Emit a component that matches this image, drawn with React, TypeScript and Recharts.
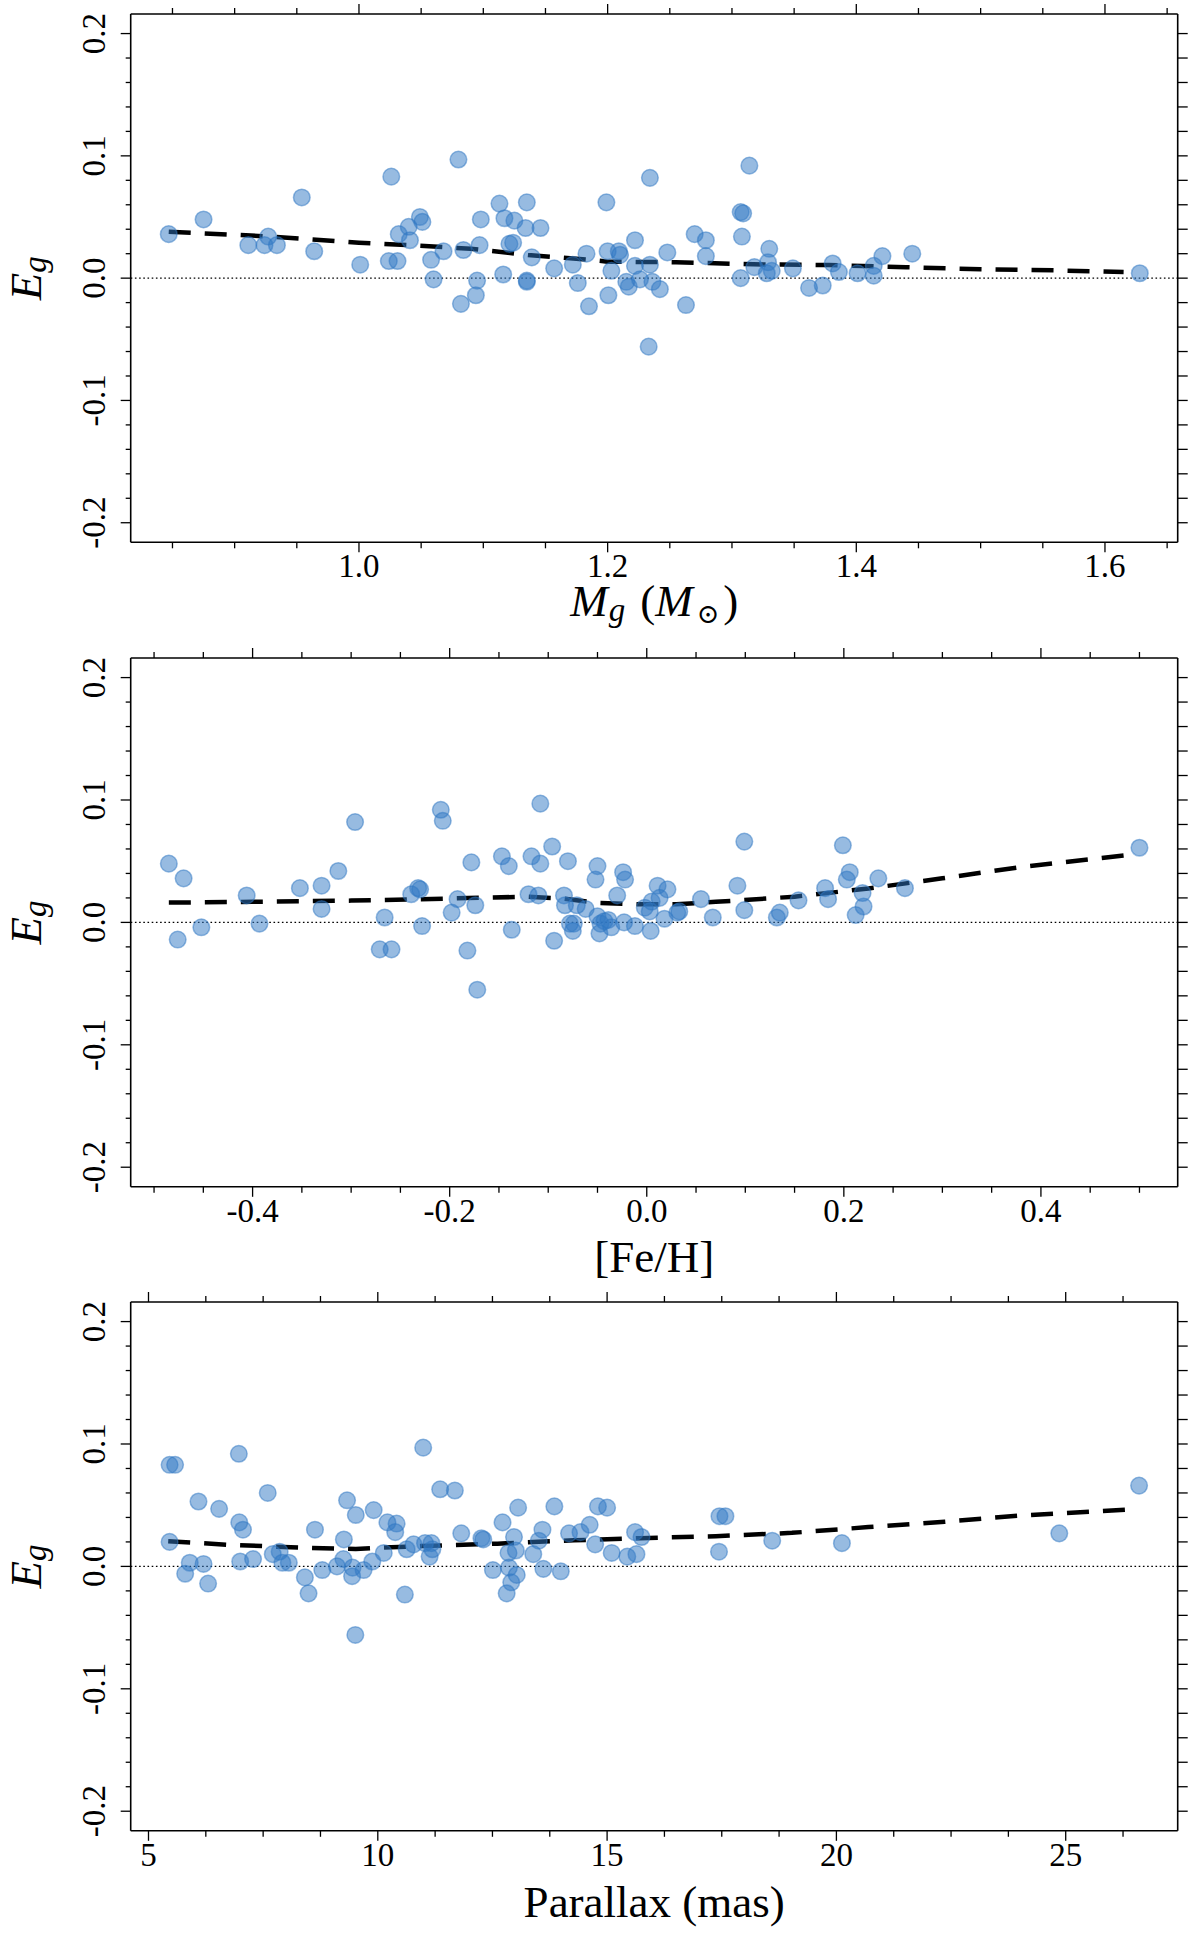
import React from 'react';
import { ComposedChart, Scatter, Line, XAxis, YAxis, ReferenceLine } from 'recharts';

const FONT = '"Liberation Serif", "Times New Roman", serif';

// ---------- Panel 1: mass ----------
const massX = [0.847, 0.875, 0.911, 0.924, 0.927, 0.934, 0.954, 0.964, 1.001, 1.026, 1.024, 1.031, 1.032, 1.040, 1.041, 1.049, 1.051, 1.058, 1.060, 1.068, 1.080, 1.082, 1.084, 1.094, 1.095, 1.097, 1.098, 1.113, 1.117, 1.116, 1.121, 1.124, 1.125, 1.134, 1.135, 1.135, 1.135, 1.139, 1.146, 1.157, 1.172, 1.176, 1.183, 1.185, 1.199, 1.2006, 1.200, 1.203, 1.209, 1.210, 1.215, 1.217, 1.222, 1.222, 1.226, 1.234, 1.234, 1.236, 1.233, 1.242, 1.248, 1.263, 1.270, 1.279, 1.279, 1.307, 1.309, 1.308, 1.307, 1.314, 1.318, 1.330, 1.329, 1.328, 1.332, 1.349, 1.362, 1.373, 1.381, 1.386, 1.401, 1.414, 1.414, 1.421, 1.445, 1.628];
const massE = [0.036, 0.048, 0.027, 0.027, 0.034, 0.027, 0.066, 0.022, 0.011, 0.083, 0.014, 0.014, 0.036, 0.042, 0.031, 0.050, 0.046, 0.015, -0.001, 0.022, 0.097, -0.021, 0.023, -0.014, -0.002, 0.027, 0.048, 0.061, 0.049, 0.003, 0.028, 0.029, 0.047, 0.041, 0.062, -0.002, -0.003, 0.017, 0.041, 0.008, 0.011, -0.004, 0.020, -0.023, 0.062, -0.014, 0.022, 0.006, 0.022, 0.019, -0.003, -0.007, 0.031, 0.010, -0.001, 0.082, 0.011, -0.003, -0.056, -0.009, 0.021, -0.022, 0.036, 0.031, 0.018, 0.054, 0.053, 0.034, 0.000, 0.092, 0.009, 0.024, 0.013, 0.004, 0.006, 0.008, -0.008, -0.006, 0.012, 0.005, 0.004, 0.010, 0.002, 0.018, 0.020, 0.004];
const massFitX = [0.847, 0.93, 1.0, 1.04, 1.09, 1.136, 1.185, 1.2, 1.255, 1.317, 1.378, 1.44, 1.5, 1.563, 1.615];
const massFitE = [0.038, 0.034, 0.029, 0.027, 0.024, 0.019, 0.015, 0.0135, 0.013, 0.0113, 0.0107, 0.009, 0.0073, 0.0063, 0.005];

// ---------- Panel 2: [Fe/H] ----------
const fehX = [-0.485, -0.470, -0.476, -0.452, -0.406, -0.393, -0.352, -0.330, -0.330, -0.313, -0.296, -0.271, -0.266, -0.259, -0.239, -0.232, -0.230, -0.228, -0.209, -0.207, -0.198, -0.192, -0.182, -0.178, -0.174, -0.172, -0.147, -0.140, -0.137, -0.120, -0.117, -0.110, -0.108, -0.108, -0.096, -0.094, -0.084, -0.083, -0.080, -0.078, -0.074, -0.075, -0.071, -0.062, -0.050, -0.052, -0.050, -0.048, -0.047, -0.043, -0.039, -0.036, -0.030, -0.024, -0.022, -0.023, -0.012, -0.002, 0.003, 0.004, 0.005, 0.011, 0.013, 0.018, 0.021, 0.031, 0.033, 0.055, 0.067, 0.092, 0.099, 0.099, 0.132, 0.135, 0.154, 0.181, 0.184, 0.199, 0.206, 0.203, 0.219, 0.220, 0.212, 0.235, 0.262, 0.500];
const fehE = [0.048, 0.036, -0.014, -0.004, 0.022, -0.001, 0.028, 0.030, 0.011, 0.042, 0.082, -0.022, 0.004, -0.022, 0.023, 0.028, 0.027, -0.003, 0.092, 0.083, 0.008, 0.019, -0.023, 0.049, 0.014, -0.055, 0.054, 0.046, -0.006, 0.023, 0.054, 0.022, 0.097, 0.048, 0.062, -0.015, 0.022, 0.014, 0.050, -0.001, -0.001, -0.007, 0.014, 0.011, 0.046, 0.035, 0.005, -0.009, -0.001, 0.001, 0.002, -0.004, 0.022, 0.041, 0.035, 0.000, -0.003, 0.012, 0.009, -0.007, 0.017, 0.030, 0.020, 0.003, 0.027, 0.008, 0.009, 0.019, 0.004, 0.030, 0.066, 0.010, 0.004, 0.008, 0.018, 0.028, 0.019, 0.063, 0.041, 0.035, 0.024, 0.013, 0.006, 0.036, 0.028, 0.061];
const fehFitX = [-0.485, -0.4, -0.3, -0.2, -0.12, -0.085, -0.05, -0.01, 0.03, 0.07, 0.15, 0.225, 0.30, 0.38, 0.485];
const fehFitE = [0.0162, 0.0168, 0.0178, 0.0195, 0.021, 0.0195, 0.016, 0.0148, 0.0148, 0.0168, 0.021, 0.0277, 0.036, 0.0453, 0.0547];

// ---------- Panel 3: parallax ----------
const plxX = [5.46, 5.58, 5.46, 5.80, 5.90, 6.09, 6.20, 6.30, 6.54, 6.97, 6.98, 7.06, 7.00, 7.28, 7.60, 7.71, 7.86, 7.92, 8.06, 8.41, 8.49, 8.63, 8.79, 9.11, 9.26, 9.25, 9.33, 9.45, 9.44, 9.52, 9.51, 9.69, 9.91, 9.88, 10.13, 10.21, 10.41, 10.38, 10.59, 10.63, 10.78, 10.99, 11.03, 11.17, 11.13, 11.19, 11.36, 11.68, 11.82, 12.26, 12.30, 12.51, 12.72, 12.85, 12.86, 12.91, 12.81, 12.97, 13.01, 13.03, 13.06, 13.39, 13.51, 13.59, 13.61, 13.85, 13.99, 14.17, 14.42, 14.62, 14.80, 14.74, 15.0, 15.10, 15.44, 15.61, 15.75, 15.64, 17.45, 17.58, 17.44, 18.60, 20.12, 24.86, 26.60];
const plxE = [0.083, 0.083, 0.020, -0.006, 0.003, 0.053, 0.002, -0.014, 0.047, 0.092, 0.036, 0.030, 0.004, 0.006, 0.060, 0.010, 0.012, 0.003, 0.003, -0.009, -0.022, 0.030, -0.003, 0.000, 0.022, 0.006, 0.054, -0.001, -0.008, 0.042, -0.056, -0.003, 0.046, 0.004, 0.011, 0.036, 0.035, 0.028, -0.023, 0.014, 0.018, 0.097, 0.019, 0.019, 0.008, 0.014, 0.063, 0.062, 0.027, 0.023, 0.022, -0.003, 0.036, 0.011, -0.001, -0.013, -0.022, 0.024, 0.013, -0.007, 0.048, 0.010, 0.021, 0.030, -0.002, 0.049, -0.004, 0.027, 0.028, 0.034, 0.049, 0.018, 0.048, 0.011, 0.008, 0.028, 0.024, 0.010, 0.041, 0.041, 0.012, 0.021, 0.019, 0.027, 0.066];
const plxFitX = [5.43, 6.77, 8.44, 9.52, 10, 10.94, 12.61, 14.28, 15.71, 17.37, 19.03, 20.7, 22.36, 24.03, 26.31];
const plxFitE = [0.0206, 0.0176, 0.0152, 0.0142, 0.0152, 0.0166, 0.0186, 0.0213, 0.023, 0.0247, 0.0274, 0.0321, 0.0365, 0.0416, 0.0463];

// ---------- Ticks ----------
const yTicks = [-0.2, -0.18, -0.16, -0.14, -0.12, -0.1, -0.08, -0.06, -0.04, -0.02, 0, 0.02, 0.04, 0.06, 0.08, 0.1, 0.12, 0.14, 0.16, 0.18, 0.2];
const yMajor = [-0.2, -0.1, 0, 0.1, 0.2];
const massTicks = [0.85, 0.9, 0.95, 1.0, 1.05, 1.1, 1.15, 1.2, 1.25, 1.3, 1.35, 1.4, 1.45, 1.5, 1.55, 1.6, 1.65];
const massMajor = [1.0, 1.2, 1.4, 1.6];
const fehTicks = [-0.5, -0.45, -0.4, -0.35, -0.3, -0.25, -0.2, -0.15, -0.1, -0.05, 0, 0.05, 0.1, 0.15, 0.2, 0.25, 0.3, 0.35, 0.4, 0.45, 0.5];
const fehMajor = [-0.4, -0.2, 0, 0.2, 0.4];
const plxTicks = [5, 6.25, 7.5, 8.75, 10, 11.25, 12.5, 13.75, 15, 16.25, 17.5, 18.75, 20, 21.25, 22.5, 23.75, 25, 26.25];
const plxMajor = [5, 10, 15, 20, 25];

const Y_DOMAIN: [number, number] = [-0.216, 0.216];

const zip = (xs: number[], ys: number[]) => xs.map((x, i) => ({ x, y: ys[i] }));

const isMajor = (v: number, majors: number[]) => majors.some((m) => Math.abs(m - v) < 1e-9);

const PLOT_LEFT = 130.7;
const PLOT_RIGHT_W = 22.3;
const CHART_W = 1200;
const CHART_H = 644;
const TOP_H = 14;

type Side = 'bottom' | 'top' | 'left' | 'right';

function makeTick(side: Side, majors: number[], majorLen: number, minorLen: number, fmt?: (v: number) => string) {
  return (props: any) => {
    const { x, y, payload } = props;
    const v = payload.value as number;
    const major = isMajor(v, majors);
    const len = major ? majorLen : minorLen;
    let line;
    let label = null;
    if (side === 'bottom') {
      line = <line x1={x} y1={y} x2={x} y2={y + len} stroke="#000" strokeWidth={1.3} />;
      if (major && fmt) {
        label = (
          <text x={x} y={y + 35} textAnchor="middle" fontSize={33} fontFamily={FONT} fill="#000">
            {fmt(v)}
          </text>
        );
      }
    } else if (side === 'top') {
      line = <line x1={x} y1={y} x2={x} y2={y - len} stroke="#000" strokeWidth={1.3} />;
    } else if (side === 'left') {
      line = <line x1={x} y1={y} x2={x - len} y2={y} stroke="#000" strokeWidth={1.3} />;
      if (major && fmt) {
        const tx = x - 25.7;
        label = (
          <text x={tx} y={y} transform={`rotate(-90 ${tx} ${y})`} textAnchor="middle" fontSize={33} fontFamily={FONT} fill="#000">
            {fmt(v)}
          </text>
        );
      }
    } else {
      line = <line x1={x} y1={y} x2={x + len} y2={y} stroke="#000" strokeWidth={1.3} />;
    }
    return (
      <g>
        {line}
        {label}
      </g>
    );
  };
}

const renderDot = (props: any) => {
  const { cx, cy } = props;
  if (cx == null || cy == null) return <g />;
  return (
    <circle cx={cx} cy={cy} r={8.3} fill="#2f78c4" fillOpacity={0.5} stroke="#2f78c4" strokeOpacity={0.5} strokeWidth={1.5} />
  );
};

type PanelProps = {
  top: number;
  plotH: number;
  points: { x: number; y: number }[];
  fit: { x: number; y: number }[];
  xDomain: [number, number];
  xTicks: number[];
  xMajor: number[];
  xFmt: (v: number) => string;
  xLabel: React.ReactNode;
};

const fmt1 = (v: number) => (Math.abs(v) < 1e-9 ? '0.0' : v.toFixed(1));
const fmtInt = (v: number) => String(Math.round(v));

const Y_LABEL_X = 41;

function Panel({ top, plotH, points, fit, xDomain, xTicks, xMajor, xFmt, xLabel }: PanelProps) {
  const bottomH = CHART_H - TOP_H - plotH;
  const plotCenterY = TOP_H + plotH / 2;
  const axisLine = { stroke: '#000', strokeWidth: 1.6 };
  return (
    <div style={{ position: 'absolute', left: 0, top, width: CHART_W, height: CHART_H }}>
      <ComposedChart width={CHART_W} height={CHART_H} margin={{ top: 0, right: 0, bottom: 0, left: 0 }}>
        <XAxis
          xAxisId="b"
          orientation="bottom"
          type="number"
          dataKey="x"
          domain={xDomain}
          allowDataOverflow
          ticks={xTicks}
          interval={0}
          height={bottomH}
          tickSize={0}
          tickMargin={0}
          tickLine={false}
          axisLine={axisLine}
          tick={makeTick('bottom', xMajor, 10, 6, xFmt)}
          label={() => xLabel}
        />
        <XAxis
          xAxisId="t"
          orientation="top"
          type="number"
          dataKey="x"
          domain={xDomain}
          allowDataOverflow
          ticks={xTicks}
          interval={0}
          height={TOP_H}
          tickSize={0}
          tickMargin={0}
          tickLine={false}
          axisLine={axisLine}
          tick={makeTick('top', xMajor, 10, 6)}
        />
        <YAxis
          yAxisId="l"
          orientation="left"
          type="number"
          dataKey="y"
          domain={Y_DOMAIN}
          allowDataOverflow
          ticks={yTicks}
          interval={0}
          width={PLOT_LEFT}
          tickSize={0}
          tickMargin={0}
          tickLine={false}
          axisLine={axisLine}
          tick={makeTick('left', yMajor, 10, 5, fmt1)}
          label={() => (
            <text
              x={Y_LABEL_X}
              y={plotCenterY}
              transform={`rotate(-90 ${Y_LABEL_X} ${plotCenterY})`}
              textAnchor="middle"
              fontSize={45}
              fontFamily={FONT}
              fill="#000"
            >
              <tspan fontStyle="italic">E</tspan>
              <tspan fontStyle="italic" fontSize={33} dy={5}>g</tspan>
            </text>
          )}
        />
        <YAxis
          yAxisId="r"
          orientation="right"
          type="number"
          dataKey="y"
          domain={Y_DOMAIN}
          allowDataOverflow
          ticks={yTicks}
          interval={0}
          width={PLOT_RIGHT_W}
          tickSize={0}
          tickMargin={0}
          tickLine={false}
          axisLine={axisLine}
          tick={makeTick('right', yMajor, 10, 10)}
        />
        <ReferenceLine xAxisId="b" yAxisId="l" y={0} stroke="#000" strokeWidth={1.3} strokeDasharray="1.6 2.6" />
        <Scatter xAxisId="b" yAxisId="l" data={points} dataKey="y" shape={renderDot} isAnimationActive={false} />
        <Line
          xAxisId="b"
          yAxisId="l"
          data={fit}
          dataKey="y"
          type="linear"
          dot={false}
          activeDot={false}
          stroke="#000"
          strokeWidth={4.5}
          strokeDasharray="22 14"
          isAnimationActive={false}
        />
      </ComposedChart>
    </div>
  );
}

const centerX = (PLOT_LEFT + (CHART_W - PLOT_RIGHT_W)) / 2;

export default function App() {
  const massLabelY = TOP_H + 528.3 + 74;
  const fehLabelY = TOP_H + 528.8 + 85;
  const plxLabelY = TOP_H + 528.8 + 86;
  return (
    <div style={{ position: 'absolute', left: 0, top: 0, width: 1200, height: 1933, background: '#fff' }}>
      <Panel
        top={0}
        plotH={528.3}
        points={zip(massX, massE)}
        fit={zip(massFitX, massFitE)}
        xDomain={[0.8164, 1.6585]}
        xTicks={massTicks}
        xMajor={massMajor}
        xFmt={fmt1}
        xLabel={
          <text x={centerX} y={massLabelY} textAnchor="middle" fontSize={45} fontFamily={FONT} fill="#000">
            <tspan fontStyle="italic">M</tspan>
            <tspan fontStyle="italic" fontSize={33} dy={5} dx={1}>g</tspan>
            <tspan dy={-5} dx={15}>(</tspan>
            <tspan fontStyle="italic">M</tspan>
            <tspan fontSize={27} dy={7} dx={4} fontFamily='"DejaVu Serif", serif'>⊙</tspan>
            <tspan dy={-7} dx={4}>)</tspan>
          </text>
        }
      />
      <Panel
        top={643.8}
        plotH={528.8}
        points={zip(fehX, fehE)}
        fit={zip(fehFitX, fehFitE)}
        xDomain={[-0.5237, 0.5388]}
        xTicks={fehTicks}
        xMajor={fehMajor}
        xFmt={fmt1}
        xLabel={
          <text x={centerX} y={fehLabelY} textAnchor="middle" fontSize={45} fontFamily={FONT} fill="#000">
            [Fe/H]
          </text>
        }
      />
      <Panel
        top={1288}
        plotH={528.8}
        points={zip(plxX, plxE)}
        fit={zip(plxFitX, plxFitE)}
        xDomain={[4.612, 27.442]}
        xTicks={plxTicks}
        xMajor={plxMajor}
        xFmt={fmtInt}
        xLabel={
          <text x={centerX} y={plxLabelY} textAnchor="middle" fontSize={45} fontFamily={FONT} fill="#000">
            Parallax (mas)
          </text>
        }
      />
    </div>
  );
}
